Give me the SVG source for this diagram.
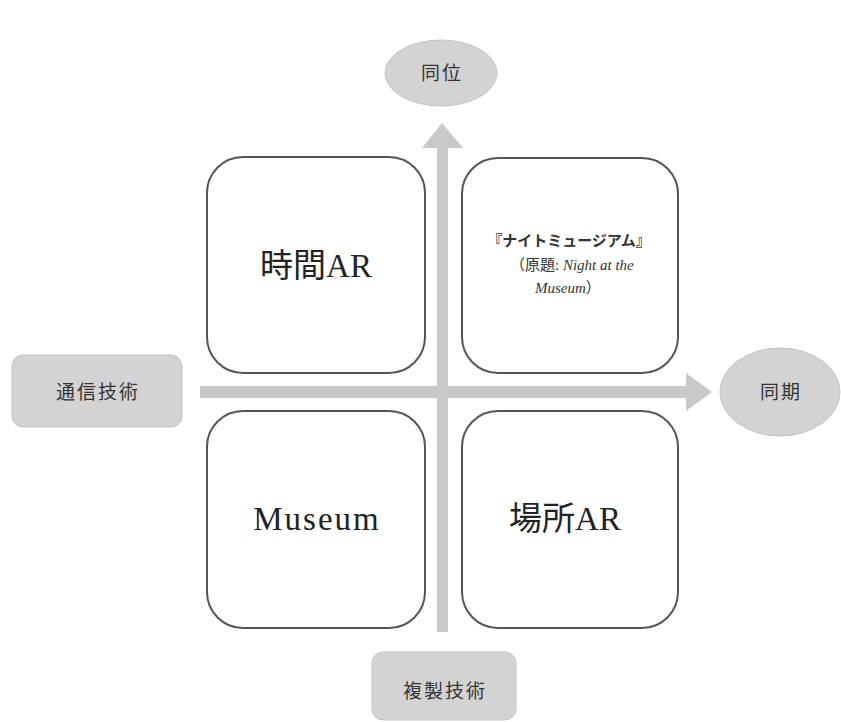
<svg xmlns="http://www.w3.org/2000/svg" width="841" height="722" viewBox="0 0 841 722">
<style>
.box{fill:#fff;stroke:#555;stroke-width:2}
.lab{fill:#d3d3d3;stroke:#c4c4c4;stroke-width:1}
.arr{fill:#c9c9c9}
.big{font-family:"Liberation Serif","Noto Sans CJK JP",serif;font-size:33px;fill:#222;text-anchor:middle}
.sm{font-family:"Noto Sans CJK JP","Liberation Serif",sans-serif;font-size:19px;fill:#333;text-anchor:middle;letter-spacing:2px}
.tt{font-family:"Liberation Serif","Noto Sans CJK JP",serif;font-size:15px;fill:#333}
</style>
<rect width="841" height="722" fill="#fff"/>
<g id="connectors">
<path class="arr" d="M200,386 H686 V373 L712,392 L686,411 V398 H200 Z"/>
<path class="arr" d="M437,632 V148 H422 L442,123 L463,148 H448 V632 Z"/>
</g>
<g id="n-jikan"><rect class="box" x="207" y="157" width="218" height="216" rx="36"/><text class="big" x="316" y="277">時間AR</text></g>
<g id="n-night"><rect class="box" x="462" y="158" width="216" height="215" rx="36"/>
<text class="tt" x="569" y="246" text-anchor="middle" font-weight="bold">『ナイトミュージアム』</text>
<text class="tt" x="510" y="270">（原題: <tspan font-style="italic">Night at the</tspan></text>
<text class="tt" x="535" y="293"><tspan font-style="italic">Museum</tspan>）</text>
</g>
<g id="n-museum"><rect class="box" x="207" y="411" width="218" height="217" rx="36"/><text class="big" x="317" y="530" letter-spacing="2">Museum</text></g>
<g id="n-basho"><rect class="box" x="462" y="411" width="216" height="217" rx="36"/><text class="big" x="565" y="530">場所AR</text></g>
<g id="n-doui"><ellipse class="lab" cx="441" cy="73" rx="56" ry="33"/><text class="sm" x="442" y="80">同位</text></g>
<g id="n-douki"><ellipse class="lab" cx="780" cy="392" rx="60" ry="44"/><text class="sm" x="781" y="399">同期</text></g>
<g id="n-tsushin"><rect class="lab" x="12" y="355" width="170" height="72" rx="11"/><text class="sm" x="98" y="399">通信技術</text></g>
<g id="n-fukusei"><rect class="lab" x="372" y="652" width="144" height="68" rx="11"/><text class="sm" x="445" y="698">複製技術</text></g>
</svg>
